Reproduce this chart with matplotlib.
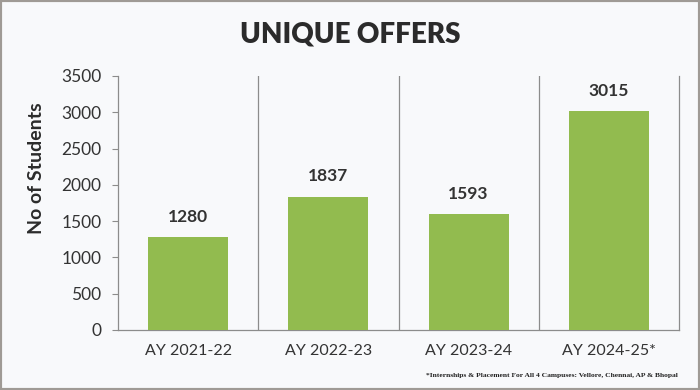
import matplotlib.pyplot as plt
from matplotlib.patches import Rectangle

years = ["AY 2021-22", "AY 2022-23", "AY 2023-24", "AY 2024-25*"]
offers = [1280, 1837, 1593, 3015]
y_ticks = [0, 500, 1000, 1500, 2000, 2500, 3000, 3500]

plt.rcParams['font.family'] = ['Lato', 'DejaVu Sans']

fig = plt.figure(figsize=(7, 3.9), dpi=100, facecolor='#f8f9fb')
ax = fig.add_axes([118 / 700, 1 - 330 / 390, 561 / 700, 254 / 390])
ax.set_facecolor('#f8f9fb')

x = range(len(years))
bars = ax.bar(x, offers, width=0.57, color='#92bb4f', zorder=3)
for b, v in zip(bars, offers):
    ax.annotate(str(v), (b.get_x() + b.get_width() / 2, v), xytext=(0, 9),
                textcoords='offset points', ha='center', va='bottom',
                fontsize=12.5, fontweight='bold', color='#333333')

ax.set_xlim(-0.5, len(years) - 0.5)
ax.set_ylim(0, 3500)
ax.set_yticks(y_ticks)
ax.set_xticks(list(x))
ax.set_xticklabels(years)

# separators between the categories
for sep in [0.5, 1.5, 2.5]:
    ax.axvline(sep, color='#8c8c8c', lw=0.9, zorder=1)

ax.spines['top'].set_visible(False)
for side in ['left', 'bottom', 'right']:
    ax.spines[side].set_color('#8c8c8c')
    ax.spines[side].set_linewidth(0.9)

ax.tick_params(axis='y', length=4, color='#8c8c8c', labelsize=12.5,
               labelcolor='#333333', pad=8)
ax.tick_params(axis='x', length=0, labelsize=11.5, labelcolor='#333333', pad=10)

fig.text(0.5, 1 - 35 / 390, "UNIQUE OFFERS", ha='center', va='center',
         fontsize=20, fontweight='heavy', color='#2b2b2b')
fig.text(36 / 700, 1 - 168 / 390, "No of Students", rotation=90,
         ha='center', va='center', fontsize=14, fontweight='bold', color='#2b2b2b')
fig.text(678 / 700, 1 - 376 / 390,
         "*Internships & Placement For All 4 Campuses: Vellore, Chennai, AP & Bhopal",
         ha='right', va='center', fontsize=5.4, fontweight='bold',
         family=['Liberation Serif', 'DejaVu Serif'], color='#222222')

fig.patches.append(Rectangle((0, 0), 1, 1, transform=fig.transFigure,
                             fill=False, edgecolor='#9f9a95', lw=3))

fig.savefig('out.png', dpi=100, facecolor=fig.get_facecolor())
